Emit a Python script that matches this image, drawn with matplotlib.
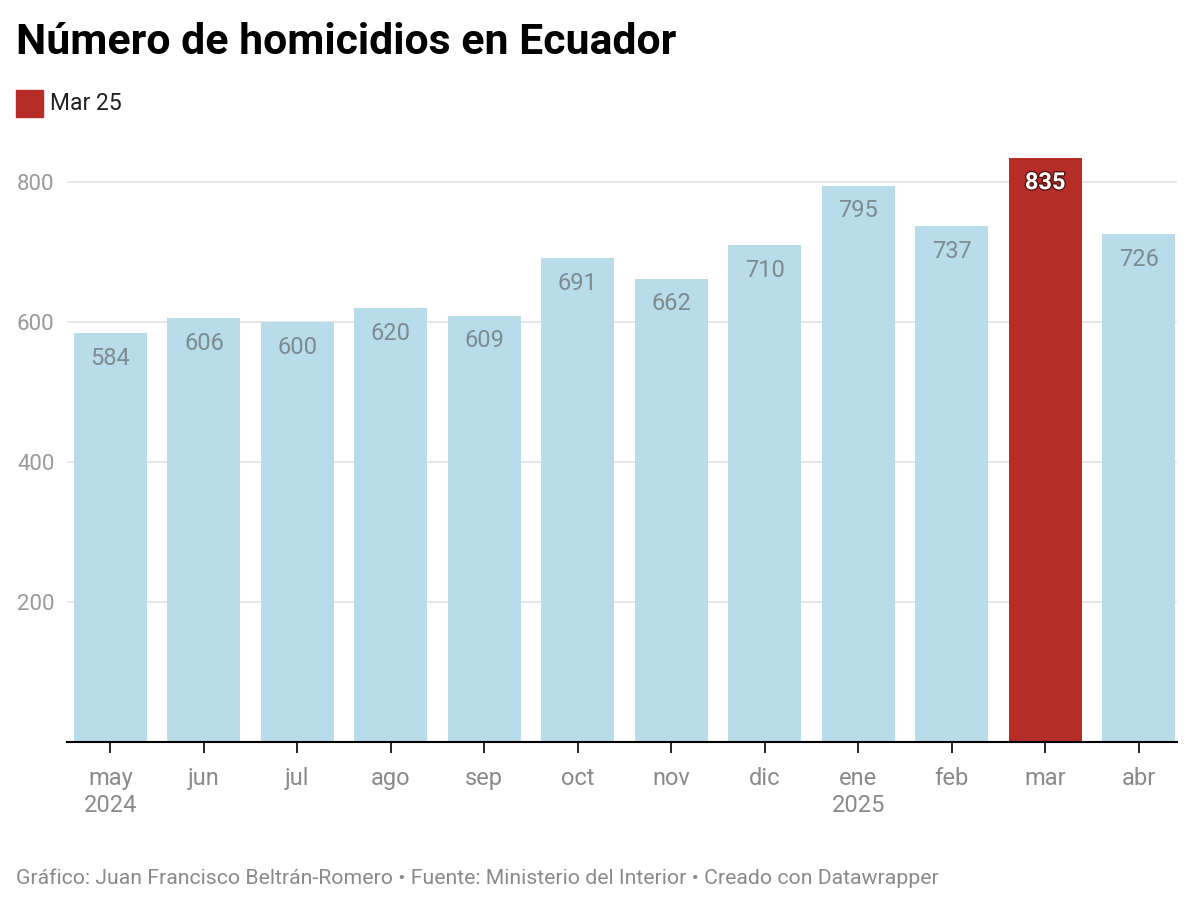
import matplotlib
matplotlib.use("Agg")
import matplotlib.pyplot as plt
import matplotlib.patheffects as pe

plt.rcParams['font.family'] = ['Roboto', 'DejaVu Sans']

meses = ["may\n2024", "jun", "jul", "ago", "sep", "oct", "nov", "dic",
         "ene\n2025", "feb", "mar", "abr"]
homicidios = [584, 606, 600, 620, 609, 691, 662, 710, 795, 737, 835, 726]
destacado = 10  # mar 25

azul = "#b8dcea"
rojo = "#b52d26"
gris = "#8a8a8a"

fig = plt.figure(figsize=(12, 9.02), dpi=100)
ax = fig.add_axes([67 / 1200, 160 / 902, 1110 / 1200, 595 / 902])

colores = [rojo if i == destacado else azul for i in range(len(homicidios))]
x = list(range(len(homicidios)))
ax.bar(x, homicidios, width=0.78, color=colores, zorder=2)

for i, v in enumerate(homicidios):
    if i == destacado:
        t = ax.text(i, v - 36, str(v), ha="center", va="center", fontsize=17,
                    fontweight="bold", color="white", zorder=3)
        t.set_path_effects([pe.withStroke(linewidth=2, foreground="#5a1510")])
    else:
        ax.text(i, v - 36, str(v), ha="center", va="center", fontsize=17,
                color="#7f8b8f", zorder=3)

ax.set_xlim(-0.465, 11.41)
ax.set_ylim(0, 850)
ax.set_yticks([200, 400, 600, 800])
ax.grid(axis="y", color="#e2e2e2", linewidth=1.2, zorder=0)
ax.tick_params(axis="y", length=0, labelsize=16, labelcolor="#9a9a9a", pad=9)

ax.set_xticks(x)
ax.set_xticklabels(meses, fontsize=17, color=gris, linespacing=1.25)
ax.tick_params(axis="x", length=8, width=1.2, color="black", pad=10)

for s in ["top", "right", "left"]:
    ax.spines[s].set_visible(False)
ax.spines["bottom"].set_linewidth(1.5)
ax.spines["bottom"].set_zorder(4)

fig.text(16 / 1200, 1 - 43 / 902, "Número de homicidios en Ecuador",
         fontsize=30.8, fontweight="bold", color="black", va="center")
fig.patches.append(plt.Rectangle((16 / 1200, 1 - 117 / 902), 27 / 1200, 27 / 902,
                                 transform=fig.transFigure, color=rojo))
fig.text(50 / 1200, 1 - 104 / 902, "Mar 25", fontsize=16.5, color="#222222", va="center")
fig.text(16 / 1200, 1 - 878 / 902,
         "Gráfico: Juan Francisco Beltrán-Romero • Fuente: Ministerio del Interior • Creado con Datawrapper",
         fontsize=15.3, color=gris, va="center")

fig.savefig("out.png", dpi=100)
